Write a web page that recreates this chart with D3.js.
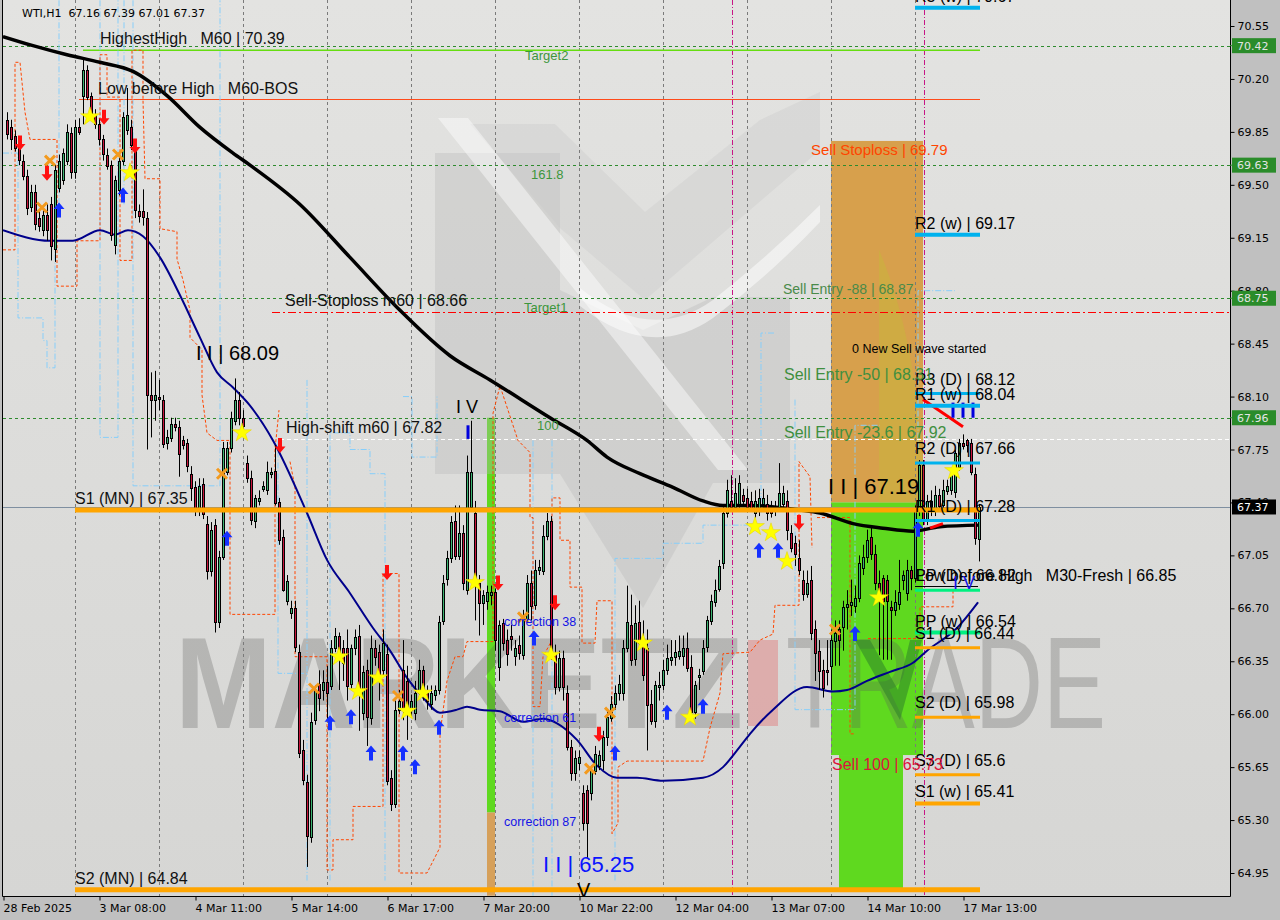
<!DOCTYPE html>
<html><head><meta charset="utf-8">
<script src="https://cdn.jsdelivr.net/npm/d3@7/dist/d3.min.js"></script>
<style>html,body{margin:0;padding:0;background:#c0c0c0;}svg{display:block;}text{white-space:pre;}</style>
</head><body>
<svg id="chart" width="1280" height="920"></svg>
<script>
// ---------------- DATA ----------------
const open=[69.93,69.88,69.82,69.76,69.66,69.56,69.35,69.45,69.28,69.20,
69.30,69.37,69.08,69.48,69.53,69.66,69.84,69.58,69.88,70.09,
70.26,70.09,69.96,69.90,69.80,69.70,69.63,69.10,69.47,69.66,
69.86,69.88,69.76,69.33,69.33,69.28,68.11,68.08,68.10,68.08,
67.79,67.83,67.92,67.90,67.81,67.79,67.59,67.50,67.35,67.52,
67.26,66.95,67.25,66.61,67.04,67.60,67.76,67.94,68.08,67.96,
67.66,67.56,67.28,67.41,67.49,67.48,67.59,67.61,67.40,67.17,
66.75,66.67,66.70,66.41,65.76,65.55,65.19,65.96,66.20,66.16,
66.21,66.19,66.44,66.52,66.44,66.44,66.20,66.44,66.52,66.01,
66.29,65.98,66.44,66.41,66.29,66.40,65.58,65.41,66.03,66.29,
66.22,66.03,66.01,66.16,66.29,66.14,66.07,66.13,66.16,66.62,
66.89,67.03,67.28,67.05,67.20,66.82,67.37,67.33,66.87,66.74,
66.75,66.79,66.81,66.31,66.60,66.49,66.52,66.39,66.46,66.39,
66.63,66.87,66.72,66.95,66.95,67.18,67.28,66.40,66.18,66.37,
66.14,65.78,65.61,65.68,65.48,65.50,65.48,65.63,65.66,65.70,
65.85,65.98,66.07,66.14,66.14,66.44,66.59,66.36,66.61,66.49,
66.44,66.07,65.95,66.18,66.19,66.29,66.36,66.38,66.39,66.39,
66.44,66.31,66.01,66.25,66.29,66.44,66.62,66.74,66.83,67.00,
67.33,67.41,67.37,67.39,67.45,67.43,67.41,67.33,67.35,67.39,
67.39,67.37,67.35,67.37,67.39,67.41,67.20,67.13,67.03,66.89,
66.80,66.89,66.56,66.42,66.29,66.29,66.32,66.49,66.56,66.58,
66.71,66.72,66.72,66.77,66.97,67.04,67.17,67.06,66.87,66.90,
66.89,66.71,66.69,66.73,66.89,66.80,66.95,66.90,67.35,67.65,
67.28,67.41,67.35,67.45,67.38,67.48,67.48,67.47,67.63,67.79,
67.81,67.79,67.59,67.16];
const high=[69.98,69.93,69.86,69.80,69.70,69.60,69.50,69.50,69.33,69.33,
69.37,69.42,69.63,69.70,69.74,69.90,69.88,69.93,69.94,70.34,
70.29,70.11,70.00,69.94,69.83,69.74,69.66,69.56,69.70,69.98,
70.14,69.93,69.80,69.37,69.47,69.32,68.26,68.27,68.21,68.11,
67.88,67.96,67.96,67.94,67.84,67.82,67.64,67.54,67.56,67.56,
67.31,67.27,67.29,67.08,67.80,67.80,68.00,68.22,68.13,68.01,
67.71,67.61,67.45,67.48,67.54,67.67,67.63,67.78,67.43,67.22,
66.92,66.75,66.75,66.46,65.83,65.60,66.01,66.19,66.29,66.29,
66.32,66.49,66.57,66.54,66.49,66.56,66.46,66.56,66.59,66.32,
66.36,66.52,66.49,66.46,66.56,66.46,65.63,66.09,66.16,66.49,
66.32,66.13,66.22,66.36,66.32,66.19,66.19,66.19,66.65,66.92,
67.08,67.31,67.38,67.38,67.25,67.71,67.94,67.41,66.92,66.82,
66.85,66.85,66.83,66.62,66.63,66.56,66.59,66.49,66.52,66.69,
66.92,66.95,67.02,67.02,67.25,67.33,67.31,66.46,66.42,66.42,
66.19,65.83,65.76,65.76,65.53,65.53,65.66,65.79,65.76,65.89,
66.03,66.12,66.19,66.26,66.49,66.85,66.79,66.72,66.75,66.62,
66.56,66.16,66.22,66.28,66.36,66.46,66.49,66.49,66.52,66.52,
66.54,66.39,66.22,66.30,66.49,66.65,66.79,66.89,67.02,67.38,
67.55,67.58,67.56,67.58,67.49,67.49,67.47,67.48,67.49,67.49,
67.45,67.41,67.41,67.66,67.51,67.48,67.25,67.18,67.15,66.95,
66.95,66.98,66.62,66.49,66.36,66.49,66.56,66.62,66.62,66.75,
66.82,66.89,66.85,67.05,67.12,67.22,67.25,67.12,66.95,66.92,
66.92,66.75,66.82,67.02,66.95,67.02,66.98,67.38,67.68,67.68,
67.45,67.48,67.51,67.49,67.55,67.55,67.62,67.75,67.82,67.85,
67.82,67.82,67.63,67.39];
const low=[69.80,69.73,69.72,69.63,69.53,69.30,69.32,69.20,69.19,69.16,
69.13,69.00,68.99,69.45,69.50,69.63,69.54,69.54,69.83,69.90,
70.06,69.94,69.87,69.76,69.66,69.60,69.13,69.04,69.43,69.63,
69.83,69.73,69.28,69.25,69.23,67.75,67.83,67.94,68.01,67.76,
67.75,67.80,67.87,67.57,67.75,67.60,67.41,67.31,67.31,67.29,
66.89,66.91,66.54,66.57,67.02,67.58,67.73,67.91,67.91,67.87,
67.53,67.25,67.23,67.38,67.47,67.45,67.56,67.38,67.12,66.81,
66.72,66.63,66.41,65.71,65.53,64.99,65.15,65.93,66.02,66.09,
65.96,66.16,66.41,66.16,66.22,66.09,66.17,66.39,65.89,65.96,
65.79,65.93,66.32,66.09,66.26,65.53,65.36,65.38,66.00,65.96,
65.83,65.99,65.96,66.13,66.09,66.03,66.03,66.09,66.13,66.59,
66.85,67.00,67.02,67.02,66.82,66.79,67.35,66.62,66.52,66.59,
66.69,66.72,66.42,66.22,66.42,66.32,66.42,66.32,66.36,66.36,
66.61,66.62,66.69,66.92,66.92,67.15,66.36,66.13,66.15,66.09,
65.76,65.56,65.56,65.63,65.23,65.05,65.43,65.60,65.63,65.63,
65.79,65.95,66.03,66.09,66.09,66.41,66.32,66.32,66.46,66.22,
65.76,65.93,65.91,66.09,66.16,66.26,66.32,66.32,66.36,66.32,
66.28,65.96,65.97,66.16,66.26,66.41,66.59,66.71,66.81,66.96,
67.30,67.35,67.34,67.35,67.39,67.34,67.34,67.30,67.31,67.36,
67.28,67.30,67.31,67.34,67.35,67.15,67.07,66.98,66.92,66.75,
66.77,66.49,66.22,66.16,66.11,66.19,66.16,66.32,66.32,66.42,
66.56,66.65,66.67,66.74,66.92,67.00,67.02,66.82,66.39,66.36,
66.36,66.36,66.65,66.69,66.82,66.75,66.82,66.87,67.31,67.25,
67.25,67.31,67.31,67.35,67.36,67.45,67.45,67.43,67.61,67.75,
67.73,67.58,67.12,67.01];
const close=[69.84,69.80,69.74,69.66,69.56,69.35,69.45,69.24,69.23,69.30,
69.20,69.09,69.60,69.66,69.71,69.85,69.58,69.88,69.85,70.26,
70.08,69.97,69.90,69.80,69.70,69.63,69.17,69.53,69.66,69.95,
69.96,69.76,69.33,69.30,69.29,68.11,68.08,68.11,68.09,67.79,
67.83,67.92,67.90,67.72,67.78,67.64,67.50,67.34,67.51,67.32,
66.95,67.22,66.61,67.04,67.76,67.76,67.96,68.08,67.96,67.91,
67.56,67.28,67.43,67.43,67.51,67.60,67.60,67.40,67.15,66.82,
66.88,66.70,66.44,65.74,65.56,65.19,65.95,66.16,66.11,66.21,
66.14,66.44,66.52,66.38,66.34,66.19,66.44,66.51,66.16,66.28,
65.98,66.44,66.38,66.22,66.47,65.56,65.41,66.03,66.09,66.03,
66.05,66.09,66.14,66.29,66.16,66.09,66.14,66.16,66.61,66.87,
67.03,67.27,67.05,67.20,66.87,67.60,67.60,66.87,66.74,66.79,
66.81,66.81,66.49,66.59,66.47,66.40,66.50,66.44,66.41,66.63,
66.87,66.72,66.95,66.97,67.18,67.28,66.40,66.18,66.37,66.18,
65.78,65.61,65.71,65.72,65.28,65.28,65.63,65.74,65.73,65.85,
65.98,66.07,66.14,66.20,66.44,66.61,66.36,66.60,66.47,66.26,
66.06,65.96,66.19,66.19,66.29,66.37,66.38,66.41,66.42,66.44,
66.31,66.01,66.19,66.26,66.44,66.62,66.75,66.82,66.98,67.33,
67.48,67.37,67.46,67.53,67.41,67.37,67.35,67.41,67.43,67.43,
67.33,67.33,67.37,67.46,67.46,67.22,67.10,67.06,66.95,66.80,
66.87,66.54,66.40,66.29,66.17,66.28,66.49,66.54,66.49,66.71,
66.73,66.74,66.77,67.00,67.04,67.15,67.06,66.87,66.77,66.75,
66.75,66.69,66.74,66.81,66.92,66.95,66.90,67.35,67.65,67.28,
67.41,67.35,67.45,67.38,67.48,67.51,67.58,67.73,67.79,67.77,
67.78,67.60,67.17,67.37];

const xTickIdx=[0,24,48,72,96,120,144,168,192,216,240];
const xTickLabels=["28 Feb 2025","3 Mar 08:00","4 Mar 11:00","5 Mar 14:00","6 Mar 17:00","7 Mar 20:00","10 Mar 22:00","12 Mar 04:00","13 Mar 07:00","14 Mar 10:00","17 Mar 13:00"];
const yTicks=[70.55,70.20,69.85,69.50,69.15,68.80,68.45,68.10,67.75,67.40,67.05,66.70,66.35,66.00,65.65,65.30,64.95];
const targetLevels=[70.42,69.63,68.75,67.96];
const lastPrice=67.37;
const sepIdx=[18,39,60,81,102,123,144,165,186,207,228];
const magentaIdx=[182.25,230.25];

const maBlackIdx=[0,7.5,16,24.25,32.5,41,49.25,57.5,61.75,74.25,86.75,99.25,111.75,121.75,136.75,146,151,159.25,167.5,175,180,186.75,199.25,204.25,212.5,220,227.5,234.25,244.25];
const maBlackVal=[70.48,70.42,70.36,70.31,70.25,70.09,69.88,69.71,69.63,69.37,69.02,68.67,68.37,68.21,67.96,67.81,67.70,67.59,67.50,67.41,67.38,67.38,67.35,67.33,67.26,67.23,67.21,67.24,67.25];
const maBlueIdx=[0,11.75,17.5,24.25,28,31.25,35,39.25,44.25,49.25,53.5,57.5,61.75,67.5,76,81,86.75,92.5,96.75,101,105,109.25,113.5,116,119.25,124.25,130,135,138.5,143.5,148.5,153.5,158.5,165,175,180,183.5,186.75,192.5,201,207.5,211,216,221.75,227.5,231,238.5,243.75];
const maBlueVal=[69.20,69.13,69.13,69.20,69.17,69.20,69.16,69.02,68.77,68.49,68.26,68.16,68.04,67.81,67.33,67.02,66.80,66.57,66.42,66.24,66.11,66.01,66.03,66.05,66.03,66.02,65.95,65.97,65.94,65.83,65.66,65.58,65.58,65.56,65.58,65.65,65.76,65.87,66.03,66.18,66.15,66.16,66.22,66.28,66.34,66.42,66.57,66.74];

const orangeSteps=[
 [[0,69.07],[3,69.07],[3,70.31],[4.25,70.31],[5.5,69.98],[6.75,69.80],[13.5,69.80],[13.5,68.83],[18.5,68.83],[18.5,69.13],[24.25,69.13],[24.25,70.36],[26,70.36],[26,70.08],[29.25,70.08],[29.25,69.00],[32.25,69.00],[32.25,70.39],[35,70.39],[35,70.06],[35.5,69.54],[39.25,69.54],[39.25,69.21],[43.5,69.19],[43.5,69.01],[45,68.87],[46.75,68.67],[46.75,68.49],[49.75,68.41],[49.75,68.11],[51,67.86],[53.5,67.81],[56.75,67.81],[56.75,66.66],[68,66.66],[68,67.75],[69,68.01]],
 [[71.75,67.67],[73,67.50],[73,66.38],[81,66.38],[81,64.97],[82.5,64.97],[82.5,65.17],[87.5,65.17],[87.5,65.39],[95,65.39],[95,66.93],[99,66.93],[99,64.95],[106,64.95],[109.25,65.12],[109.25,65.87],[111,66.22],[113,66.38],[115,66.38],[116,66.48],[122.5,66.48],[122.5,67.99],[124.25,68.17],[128.75,67.81],[131.75,67.73],[131.75,67.30],[132.5,67.30],[132.5,66.05],[134.25,66.05],[135,66.38],[137.25,66.49],[137.25,67.43],[139.25,67.43],[139.25,67.15],[141.75,67.15],[141.75,66.84],[144.75,66.84],[144.75,66.47],[148,66.47],[148.5,66.75],[152.25,66.75],[152.25,65.21],[153.75,65.28],[153.75,65.65],[156,65.69],[175,65.69],[176.75,65.91],[179.25,66.14],[180,66.40],[186.75,66.41],[189.25,66.49],[192.5,66.53],[193,66.72],[199,66.72],[199,67.67],[201.75,67.57],[202.25,67.10]],
 [[203.5,67.30],[211.75,67.30],[211.75,65.87],[213,65.87]],
 [[216.25,66.50],[229.25,66.50],[229.25,66.71],[237.5,66.71],[237.5,66.82]]
];
const blueSteps=[
 [[0,69.71],[3.75,69.71],[3.75,68.62],[10,68.62],[10,68.47],[11,68.47],[11,68.29],[13,68.29],[13,69.43]],
 [[14,70.72],[14,69.33]],
 [[24.25,70.72],[24.25,67.83],[28.75,67.83],[28.75,70.72]],
 [[30.25,70.72],[30.25,69.37]],
 [[32.5,70.72],[32.5,67.51],[54.25,67.51],[54.25,70.72]],
 [[68.75,67.81],[68.75,66.27],[76,66.27]],
 [[76,68.21],[76,64.90]],
 [[81.75,64.90],[81.75,67.86],[86.75,67.86],[86.75,67.75],[91.75,67.75],[91.75,67.59],[95.5,67.59],[95.5,64.90]],
 [[100,68.10],[102.25,68.10],[102.25,67.70],[108.5,67.70],[108.5,68.10]],
 [[132.5,67.81],[132.5,64.80]],
 [[137.25,67.81],[137.25,64.80]],
 [[153,64.90],[153,67.03],[165,67.03],[165,67.13],[175,67.13],[175,67.25],[186.75,67.25]],
 [[189.5,67.33],[189.5,68.52],[193,68.52]],
 [[198,68.08],[198,66.03],[213,66.03],[213,67.91],[219.25,67.91]],
 [[228.75,67.75],[228.75,68.80],[238,68.80]]
];

const stars=[[21.75,69.95],[31.75,69.58],[59.75,67.86],[84,66.38],[88.75,66.15],[93.75,66.24],[101,66.02],[105,66.14],[118,66.87],[137,66.39],[160,66.47],[171.75,65.98],[188,67.24],[192,67.20],[196,67.01],[219,66.77],[237.75,67.61]];
const crosses=[[9.75,69.35],[11.75,69.66],[28.75,69.70],[54.75,67.59],[77.75,66.17],[98.75,66.12],[130,66.64],[146.75,65.64],[151.75,66.01],[208,66.56]];
const upArrows=[[14,69.33],[30,69.43],[56,67.16],[81.75,65.94],[87,65.98],[92,65.74],[100,65.74],[103,65.65],[109,65.91],[132.75,66.50],[153,65.74],[166,66.01],[175,66.05],[189,67.08],[193.75,67.08],[213,66.53],[228.75,67.22]];
const downArrows=[[4.25,69.78],[11,69.58],[25.25,69.95],[33,69.76],[69.25,67.78],[96,66.94],[123.75,66.87],[138,66.74],[149,65.87],[199,67.27]];

const pivotLabels=["R3 (w) | 70.67","R2 (w) | 69.17","R3 (D) | 68.12","R1 (w) | 68.04","R2 (D) | 67.66","R1 (D) | 67.28","PP (D) | 66.82","PP (w) | 66.54","S1 (D) | 66.44","S2 (D) | 65.98","S3 (D) | 65.6","S1 (w) | 65.41"];
const pivotVals=[70.67,69.17,68.12,68.04,67.66,67.28,66.82,66.54,66.44,65.98,65.60,65.41];
const pivotKind=["R","R","R","R","R","R","P","P","S","S","S","S"];
const pivotWeekly=[1,1,0,1,0,0,0,1,0,0,0,1];

const zoneI0=[207,207,209,121,121];
const zoneI1=[230,230,225,123,123];
const zoneTop=[69.79,67.40,65.73,67.96,65.35];
const zoneBot=[67.40,65.73,64.84,65.35,64.80];
const zoneFill=["#d7a04c","#5fd91f","#5fd91f","#5fd91f","#d6a05a"];

const annText=["HighestHigh   M60 | 70.39","Low before High   M60-BOS","Target2","161.8","Target1","100","Sell-Stoploss m60 | 68.66","I I | 68.09","High-shift m60 | 67.82","I V","S1 (MN) | 67.35","S2 (MN) | 64.84","correction 38","correction 61","correction 87","I I | 65.25","V","Sell Stoploss | 69.79","Sell Entry -88 | 68.87","0 New Sell wave started","Sell Entry -50 | 68.31","Sell Entry -23.6 | 67.92","I I | 67.19","Sell 100 | 65.73","Low before High   M30-Fresh | 66.85","I V"];
const annIdx=[24.25,23.75,130.5,132,130.25,133.5,70.5,48.25,70.75,113.25,18,18,125.25,125.25,125.25,135,143.5,202,195,212.25,195.25,195.25,206.25,207.25,228.25,237.5];
const annPrice=[70.39,70.07,70.42,69.63,68.75,67.96,68.66,68.09,67.82,67.94,67.35,64.84,66.58,65.95,65.26,65.25,64.84,69.79,68.87,68.39,68.31,67.92,67.19,65.73,66.85,66.85];

// ---------------- DRAW ----------------
const svg=d3.select("#chart");
const PL=3,PR=1230,PB=896;
const x=d3.scaleLinear().domain([1,244]).range([7,979]);
const y=d3.scaleLinear().domain([64.95,70.55]).range([873,26]);
const FONT="'Liberation Sans', Arial, sans-serif";
const AFONT="'DejaVu Sans', Tahoma, sans-serif";

svg.append("rect").attr("width",1280).attr("height",920).attr("fill","#c0c0c0");
const defs=svg.append("defs");
defs.append("clipPath").attr("id","plot").append("rect").attr("x",PL).attr("y",0).attr("width",PR-PL).attr("height",PB);
const grad=defs.append("linearGradient").attr("id","bg").attr("x1",0).attr("y1",0).attr("x2",0).attr("y2",1);
grad.append("stop").attr("offset","0%").attr("stop-color","#e3e3e1");
grad.append("stop").attr("offset","100%").attr("stop-color","#d6d6d4");
svg.append("rect").attr("x",PL).attr("y",0).attr("width",PR-PL).attr("height",PB).attr("fill","url(#bg)");
const g=svg.append("g").attr("clip-path","url(#plot)");

// watermark logo (behind everything)
const wm=g.append("g");
wm.append("path").attr("d","M435,153 L560,153 L560,290 L643,330 L713,297 L790,297 L790,483 L713,483 L643,608 L560,474 L435,474 Z")
 .attr("fill","#b8b8b8").attr("opacity",0.35);
wm.append("path").attr("d","M470,124 L555,124 L645,212 L760,120 L820,92 L820,150 L645,300 L560,228 Z")
 .attr("fill","#c8c8c8").attr("opacity",0.35);
wm.append("path").attr("d","M438,118 L468,118 L748,470 L718,470 Z").attr("fill","#ffffff").attr("opacity",0.45);
wm.append("path").attr("d","M580,288 Q650,345 713,300 Q770,255 820,205 L820,222 Q770,275 713,318 Q650,362 580,306 Z").attr("fill","#ffffff").attr("opacity",0.5);

// zones
g.selectAll("rect.zone").data(zoneI0).join("rect")
 .attr("x",(d,k)=>x(d)).attr("width",(d,k)=>x(zoneI1[k])-x(d))
 .attr("y",(d,k)=>y(zoneTop[k])).attr("height",(d,k)=>y(zoneBot[k])-y(zoneTop[k]))
 .attr("fill",(d,k)=>zoneFill[k]);
g.append("path").attr("d",`M${x(219)},${y(69.07)} C${x(225)},${y(68.7)} ${x(229)},${y(68.2)} ${x(230)},${y(67.6)} L${x(230)},${y(67.40)} L${x(219)},${y(67.40)} Z`)
 .attr("fill","#c9b53c").attr("opacity",0.55);

// watermark text
wm.raise();
wm.append("text").attr("x",175).attr("y",728).attr("font-family",FONT).attr("font-weight","bold").attr("font-size",130)
 .attr("textLength",568).attr("lengthAdjust","spacingAndGlyphs").attr("fill","#5a5a5a").attr("opacity",0.28).text("MARKETZ");
wm.append("rect").attr("x",748).attr("y",640).attr("width",30).attr("height",86).attr("fill","#e08f8f").attr("opacity",0.6);
wm.append("text").attr("x",786).attr("y",728).attr("font-family",FONT).attr("font-size",130)
 .attr("textLength",320).attr("lengthAdjust","spacingAndGlyphs").attr("fill","#5a5a5a").attr("opacity",0.28).text("TRADE");
wm.append("path").attr("d","M855,640 L900,720 L922,640 L910,640 L898,690 L870,640 Z").attr("fill","#2a7a2a").attr("opacity",0.5);

// separators
g.selectAll("line.sep").data(sepIdx).join("line")
 .attr("x1",d=>Math.round(x(d))+0.5).attr("x2",d=>Math.round(x(d))+0.5).attr("y1",0).attr("y2",PB)
 .attr("stroke","#7a7a7a").attr("stroke-dasharray","3,3").attr("stroke-width",1);
g.selectAll("line.mag").data(magentaIdx).join("line")
 .attr("x1",d=>Math.round(x(d))+0.5).attr("x2",d=>Math.round(x(d))+0.5).attr("y1",0).attr("y2",PB)
 .attr("stroke","#c71585").attr("stroke-dasharray","5,2,1,2").attr("stroke-width",1);

g.selectAll("line.tgt").data(targetLevels).join("line")
 .attr("x1",PL).attr("x2",PR).attr("y1",d=>Math.round(y(d))+0.5).attr("y2",d=>Math.round(y(d))+0.5)
 .attr("stroke","#2e8b2e").attr("stroke-dasharray","3,3");
g.append("line").attr("x1",x(67.25)).attr("x2",PR).attr("y1",Math.round(y(68.66))+0.5).attr("y2",Math.round(y(68.66))+0.5)
 .attr("stroke","#ff0000").attr("stroke-dasharray","8,3,2,3");
g.append("line").attr("x1",x(69.25)).attr("x2",PR).attr("y1",Math.round(y(67.82))+0.5).attr("y2",Math.round(y(67.82))+0.5)
 .attr("stroke","#ffffff").attr("stroke-dasharray","4,3");
g.append("line").attr("x1",x(20)).attr("x2",x(244.25)).attr("y1",y(70.39)).attr("y2",y(70.39)).attr("stroke","#66dd11").attr("stroke-width",1.5);
g.append("line").attr("x1",x(19)).attr("x2",x(244.25)).attr("y1",Math.round(y(70.07))+0.5).attr("y2",Math.round(y(70.07))+0.5).attr("stroke","#ff4a1a").attr("stroke-width",1);
g.append("line").attr("x1",PL).attr("x2",PR).attr("y1",Math.round(y(lastPrice))+0.5).attr("y2",Math.round(y(lastPrice))+0.5).attr("stroke","#7f8fa0");

const line=d3.line().x(d=>x(d[0])).y(d=>y(d[1]));
g.selectAll("path.bst").data(blueSteps).join("path").attr("d",line).attr("fill","none")
 .attr("stroke","#87cefa").attr("stroke-width",1).attr("stroke-dasharray","6,2,1,2");
g.selectAll("path.ost").data(orangeSteps).join("path").attr("d",line).attr("fill","none")
 .attr("stroke","#ff4500").attr("stroke-width",1).attr("stroke-dasharray","3,2");

const smooth=d3.line().x(d=>x(d[0])).y(d=>y(d[1])).curve(d3.curveMonotoneX);
g.append("path").attr("d",smooth(maBlueIdx.map((d,k)=>[d,maBlueVal[k]]))).attr("fill","none").attr("stroke","#00008b").attr("stroke-width",2);
g.append("path").attr("d",smooth(maBlackIdx.map((d,k)=>[d,maBlackVal[k]]))).attr("fill","none").attr("stroke","#000").attr("stroke-width",3.5);

// candles
const bars=open.map((o,k)=>({i:k+1,o:o,h:high[k],l:low[k],c:close[k]}));
const gc=g.append("g");
gc.selectAll("line.wick").data(bars).join("line")
 .attr("x1",d=>x(d.i)+0.5).attr("x2",d=>x(d.i)+0.5).attr("y1",d=>y(d.h)).attr("y2",d=>y(d.l))
 .attr("stroke","#000").attr("stroke-width",1);
gc.selectAll("rect.body").data(bars).join("rect")
 .attr("x",d=>x(d.i)-0.5).attr("width",2)
 .attr("y",d=>Math.round(y(Math.max(d.o,d.c)))+0.5)
 .attr("height",d=>Math.max(1,Math.round(Math.abs(y(d.o)-y(d.c)))))
 .attr("fill",d=>d.c>=d.o?"#3cb371":"#c8143c").attr("stroke","#000").attr("stroke-width",1);

const mn=[67.35,64.84];
g.selectAll("line.mn").data(mn).join("line").attr("x1",x(18)).attr("x2",x(244.25))
 .attr("y1",d=>y(d)).attr("y2",d=>y(d)).attr("stroke","#ffa500").attr("stroke-width",5);

g.selectAll("path.star").data(stars).join("path").attr("d",d3.symbol(d3.symbolStar,110))
 .attr("transform",d=>`translate(${x(d[0])},${y(d[1])})`).attr("fill","#ffff00").attr("stroke","#e6d200").attr("stroke-width",0.5);
g.selectAll("path.cross").data(crosses).join("path").attr("d","M-5,-5L5,5M5,-5L-5,5")
 .attr("transform",d=>`translate(${x(d[0])},${y(d[1])})`).attr("stroke","#f39a1e").attr("stroke-width",3).attr("fill","none");
const arrowD="M0,-8 L5.5,-1.5 L2,-1.5 L2,7 L-2,7 L-2,-1.5 L-5.5,-1.5 Z";
g.selectAll("path.up").data(upArrows).join("path").attr("d",arrowD)
 .attr("transform",d=>`translate(${x(d[0])},${y(d[1])})`).attr("fill","#1530ff");
g.selectAll("path.dn").data(downArrows).join("path").attr("d",arrowD)
 .attr("transform",d=>`translate(${x(d[0])},${y(d[1])}) scale(1,-1)`).attr("fill","#ff1010");

g.append("line").attr("x1",x(230)).attr("y1",y(68.08)).attr("x2",x(240)).attr("y2",y(67.90)).attr("stroke","#ff0000").attr("stroke-width",3);
g.append("line").attr("x1",x(231.75)).attr("y1",y(67.23)).attr("x2",x(235)).attr("y2",y(67.26)).attr("stroke","#ff0000").attr("stroke-width",3);
g.selectAll("line.bt").data([237.5,240,242.5]).join("line").attr("x1",d=>x(d)).attr("x2",d=>x(d))
 .attr("y1",y(68.06)).attr("y2",y(67.96)).attr("stroke","#0000dd").attr("stroke-width",3);
g.append("line").attr("x1",x(116.25)).attr("x2",x(116.25)).attr("y1",y(67.91)).attr("y2",y(67.82)).attr("stroke","#0000dd").attr("stroke-width",3);

const pColor={R:"#00b2ee",P:"#00f080",S:"#ffa500"};
g.selectAll("line.piv").data(pivotVals).join("line").attr("x1",x(228)).attr("x2",x(244.25))
 .attr("y1",d=>y(d)).attr("y2",d=>y(d)).attr("stroke",(d,k)=>pColor[pivotKind[k]]).attr("stroke-width",(d,k)=>pivotWeekly[k]?4:3);
g.append("line").attr("x1",x(228)).attr("x2",x(243.75)).attr("y1",Math.round(y(66.85))+0.5).attr("y2",Math.round(y(66.85))+0.5).attr("stroke","#000");
g.selectAll("text.piv").data(pivotLabels).join("text").attr("x",x(228)).attr("y",(d,k)=>y(pivotVals[k])-(pivotWeekly[k]?6:9))
 .attr("font-family",FONT).attr("font-size",16).attr("fill","#000").text(d=>d);

const annSize=[16,16,13,13,13,13,16,20,16,18,16,16,12.5,12.5,12.5,22,20,15,14,12.5,16,16,22,16,16,18];
const annColor=["#111","#111","#3c963c","#3c963c","#3c963c","#3c963c","#111","#000","#111","#000","#111","#111","#1414e6","#1414e6","#1414e6","#0a14ff","#000","#ff4500","#4a8a4a","#000","#3f8f3f","#3f8f3f","#000","#dc143c","#000","#1414e6"];
const annDy=[-6,-5,14,14,14,12,-6,-38,-6,-8,-6,-6,0,0,0,44,7,14,14,0,15,14,-40,15,-5,3];
g.selectAll("text.ann").data(annText).join("text")
 .attr("x",(d,k)=>x(annIdx[k])).attr("y",(d,k)=>y(annPrice[k])+annDy[k])
 .attr("font-family",FONT).attr("font-size",(d,k)=>annSize[k]).attr("fill",(d,k)=>annColor[k]).text(d=>d);

svg.append("text").attr("x",22).attr("y",17).attr("font-family",AFONT).attr("font-size",11).attr("fill","#000")
 .text("WTI,H1  67.16 67.39 67.01 67.37");

svg.append("path").attr("d",`M${PL-0.5},0 V${PB+0.5} H${PR+0.5} V0`).attr("fill","none").attr("stroke","#000");

const ay=d3.axisRight(y).tickValues(yTicks).tickSize(4).tickFormat(d3.format(".2f"));
svg.append("g").attr("transform",`translate(${PR+0.5},0)`).call(ay)
 .call(s=>s.select(".domain").remove())
 .call(s=>s.selectAll("line").attr("stroke","#000"))
 .call(s=>s.selectAll("text").attr("font-family",AFONT).attr("font-size",11).attr("fill","#000").attr("x",7));
const rb=svg.append("g");
rb.selectAll("rect.gb").data(targetLevels).join("rect").attr("x",PR+2).attr("y",d=>y(d)-7.5).attr("width",44).attr("height",15).attr("fill","#2a8c2a");
rb.selectAll("text.gb").data(targetLevels).join("text").attr("x",PR+7).attr("y",d=>y(d)+4).attr("font-family",AFONT).attr("font-size",11).attr("fill","#e4e4e4").text(d=>d.toFixed(2));
rb.selectAll("line.gb").data(targetLevels).join("line").attr("x1",PR).attr("x2",PR+3).attr("y1",d=>y(d)).attr("y2",d=>y(d)).attr("stroke","#2a8c2a");
rb.append("rect").attr("x",PR+2).attr("y",y(lastPrice)-7.5).attr("width",44).attr("height",15).attr("fill","#000");
rb.append("text").attr("x",PR+7).attr("y",y(lastPrice)+4).attr("font-family",AFONT).attr("font-size",11).attr("fill","#fff").text(lastPrice.toFixed(2));

const ax=d3.axisBottom(x).tickValues(xTickIdx).tickSize(4).tickFormat((d,k)=>xTickLabels[k]);
svg.append("g").attr("transform",`translate(0.5,${PB+0.5})`).call(ax)
 .call(s=>s.select(".domain").remove())
 .call(s=>s.selectAll("line").attr("stroke","#000"))
 .call(s=>s.selectAll("text").attr("font-family",AFONT).attr("font-size",11).attr("fill","#000").attr("text-anchor","start").attr("x",-0.5).attr("y",8));
</script>
</body></html>
